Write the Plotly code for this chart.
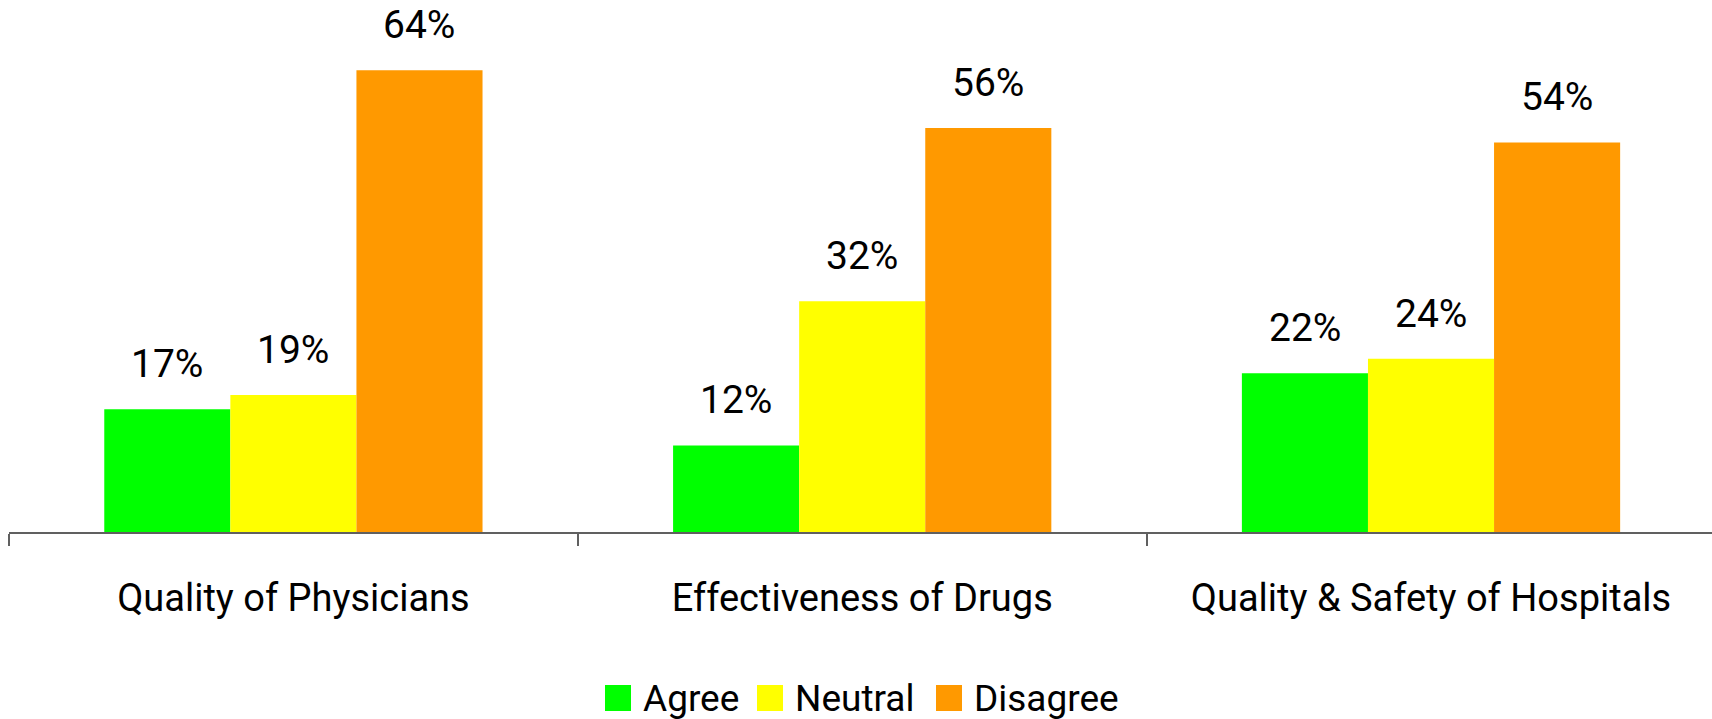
import plotly.graph_objects as go

# Survey results: share of respondents per answer, by topic
categories = ["Quality of Physicians", "Effectiveness of Drugs", "Quality & Safety of Hospitals"]
series_names = ["Agree", "Neutral", "Disagree"]
agree = [17, 12, 22]
neutral = [19, 32, 24]
disagree = [64, 56, 54]
series_values = [agree, neutral, disagree]
series_colors = ["#00FF00", "#FFFF00", "#FF9900"]

W, H = 1712, 719
M_L, M_R, M_T, M_B = 9, 0, 0, 187
PLOT_W = W - M_L - M_R
PLOT_H = H - M_T - M_B
BARGAP = 0.335
Y_MAX = 73.75
X_RANGE = [-0.5, 2.494]
FONT = "Roboto"

fig = go.Figure()
for name, vals, col in zip(series_names, series_values, series_colors):
    fig.add_trace(go.Bar(
        name=name, x=categories, y=vals, marker=dict(color=col, line=dict(width=0)),
        showlegend=False, hoverinfo="x+y+name",
    ))

# value labels above each bar
cat_px = PLOT_W / (X_RANGE[1] - X_RANGE[0])
bar_px = cat_px * (1 - BARGAP) / len(series_names)
annotations = []
for s, vals in enumerate(series_values):
    offset = (s - (len(series_names) - 1) / 2) * bar_px
    for cat, v in zip(categories, vals):
        annotations.append(dict(
            x=cat, y=v, xref="x", yref="y", text=f"{v}%", showarrow=False,
            xanchor="center", yanchor="middle", xshift=offset, yshift=45,
            font=dict(family=FONT, size=39, color="#000000"),
        ))

# legend drawn below the axis: swatch + label
def px_to_paper_x(px):
    return (px - M_L) / PLOT_W

def px_to_paper_y(py):
    return (M_T + PLOT_H - py) / PLOT_H

legend_swatch_left = [605, 757, 936]
SW = 26
LEG_CY = 698
shapes = []
for name, col, left in zip(series_names, series_colors, legend_swatch_left):
    shapes.append(dict(
        type="rect", xref="paper", yref="paper",
        x0=px_to_paper_x(left), x1=px_to_paper_x(left + SW),
        y0=px_to_paper_y(LEG_CY + SW / 2), y1=px_to_paper_y(LEG_CY - SW / 2),
        fillcolor=col, line=dict(width=0),
    ))
    annotations.append(dict(
        x=px_to_paper_x(left + SW + 10), y=px_to_paper_y(LEG_CY), xref="paper", yref="paper",
        text=name, showarrow=False, xanchor="left", yanchor="middle",
        font=dict(family=FONT, size=37, color="#000000"),
    ))

fig.update_layout(
    width=W, height=H,
    margin=dict(l=M_L, r=M_R, t=M_T, b=M_B, pad=0),
    barmode="group", bargap=BARGAP, bargroupgap=0,
    plot_bgcolor="#FFFFFF", paper_bgcolor="#FFFFFF",
    font=dict(family=FONT, color="#000000"),
    annotations=annotations, shapes=shapes,
    showlegend=False,
)
fig.update_xaxes(
    range=X_RANGE,
    showline=True, linecolor="#606060", linewidth=1.5,
    ticks="outside", tickson="boundaries", ticklen=12, tickcolor="#606060", tickwidth=1.5,
    tickfont=dict(family=FONT, size=38, color="#000000"),
    ticklabelstandoff=32, showgrid=False, zeroline=False,
)
fig.update_yaxes(visible=False, range=[0, Y_MAX], showgrid=False, zeroline=False)

fig.write_html("out.html")
